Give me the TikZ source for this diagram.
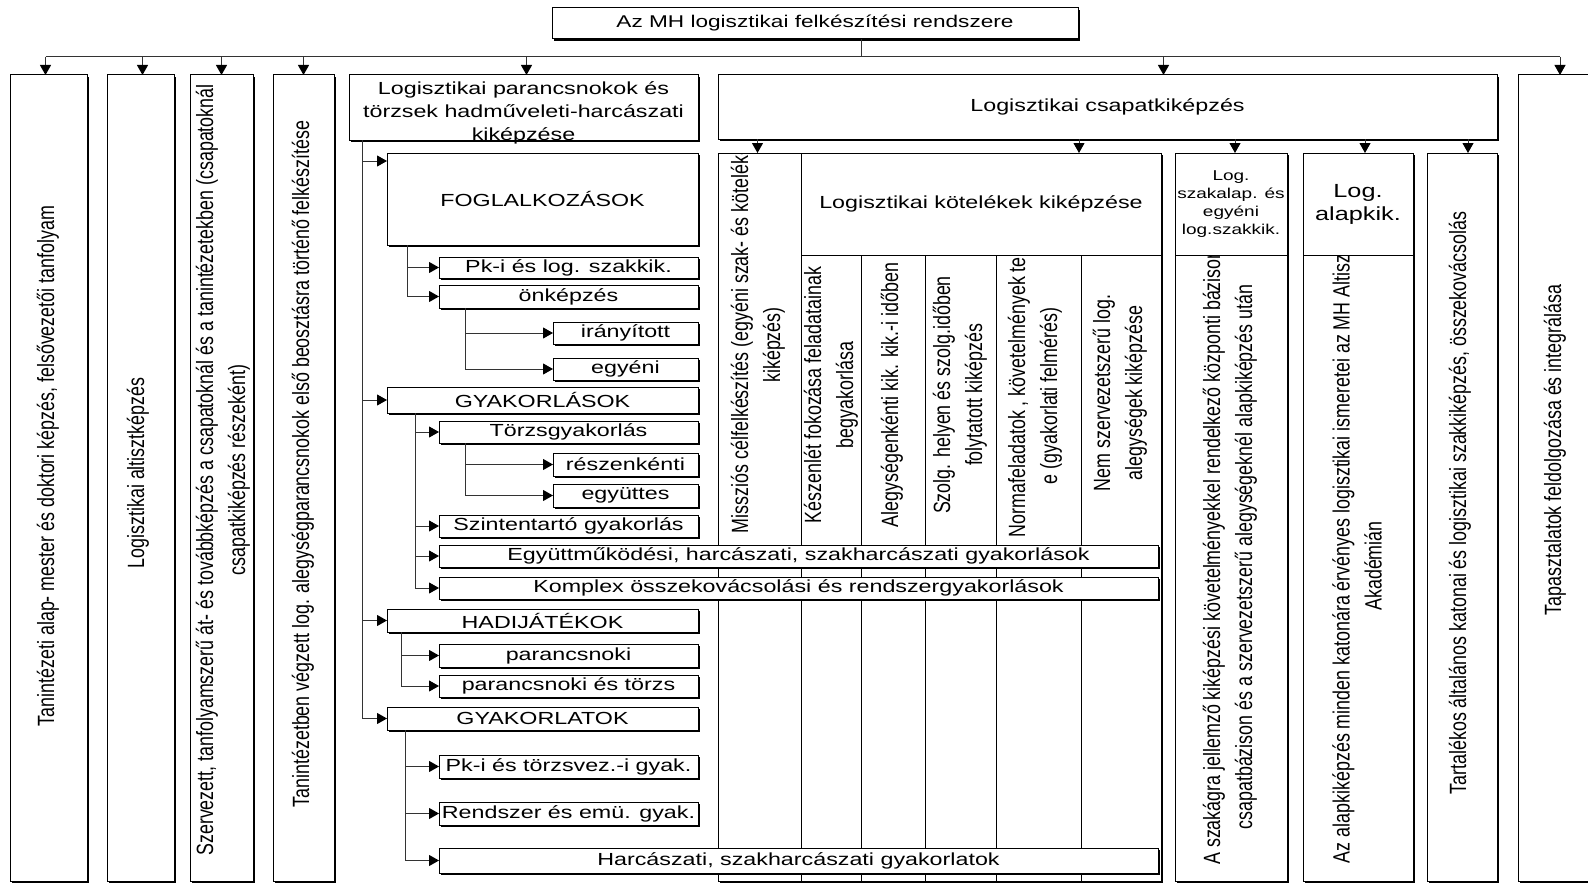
\documentclass[tikz,border=0pt]{standalone}
\usepackage{fontspec}
\setmainfont{Liberation Sans}
\newfontfamily\hfont[FakeStretch=1.33]{Liberation Sans}
\newfontfamily\vfont[FakeStretch=0.76]{Liberation Sans}
\newcommand\htextfont{\hfont\fontsize{17.5}{23}\selectfont}
\newcommand\vtextfont{\vfont\fontsize{23.5}{32}\selectfont}
\usetikzlibrary{arrows.meta, shadows}

\begin{document}
\begin{tikzpicture}[
    x=1pt, y=-1pt,
    % Styles for the boxes
    frame/.style={
        draw=black,
        line width=1pt,
        fill=white,
        inner sep=0pt,
        outer sep=0pt,
        anchor=north west,
        align=center,
        font=\htextfont,
        drop shadow={shadow xshift=2pt, shadow yshift=-2pt, fill=black, opacity=1}
    },
    cell/.style={
        draw=black,
        line width=1pt,
        fill=white,
        inner sep=0pt,
        outer sep=0pt,
        anchor=north west,
        align=center,
        font=\htextfont
    },
    vtext/.style={
        rotate=90,
        font=\vtextfont,
        align=flush center,
        inner sep=0pt
    },
    % Connector styles
    wire/.style={
        draw=black!80,
        line width=1pt
    },
    conn/.style={
        wire,
        -{Triangle[length=10pt,width=11pt,color=black]}
    }
]
    \useasboundingbox[fill=white] (0,0) rectangle (1588,883);

    % --- Top ---
    \node[frame, minimum width=526pt, minimum height=31pt, font=\hfont\fontsize{17}{21}\selectfont] (top) at (552,8) {Az MH logisztikai felkészítési rendszere};

    % --- First row ---
    \node[frame, minimum width=77pt, minimum height=806pt] (tani) at (10,75) {};
    \node[frame, minimum width=67pt, minimum height=806pt] (altiszt) at (107,75) {};
    \node[frame, minimum width=63pt, minimum height=806pt] (szerv) at (190,75) {};
    \node[frame, minimum width=61pt, minimum height=806pt] (elsobeo) at (273,75) {};
    \node[frame, minimum width=349pt, minimum height=65pt] (pk) at (349,75) {};
    \node[font=\htextfont, align=center, inner sep=0pt] (pkT) at ([yshift=-5pt]pk.center) {Logisztikai parancsnokok és\\törzsek hadműveleti-harcászati\\kiképzése};
    \node[frame, minimum width=779pt, minimum height=64pt] (csapat) at (718,75) {Logisztikai csapatkiképzés};
    \node[frame, minimum width=100pt, minimum height=806pt] (tapaszt) at (1518,75) {};

    \node[vtext] (taniT) at (48,466) {Tanintézeti alap- mester és doktori képzés,  felsővezetői tanfolyam};
    \node[vtext] (altisztT) at (138,473) {Logisztikai altisztképzés};
    \begin{scope}
        \clip (szerv.north west) rectangle (szerv.south east);
        \node[vtext, text width=780pt] (szervT) at (223,470) {\mbox{Szervezett,  tanfolyamszerű át- és továbbképzés  a csapatoknál és a tanintézetekben (csapatoknál}\\csapatkiképzés részeként)};
    \end{scope}
    \node[vtext] (elsobeoT) at (303,464) {Tanintézetben végzett log. alegységparancsnokok első beosztásra történő felkészítése};
    \node[vtext] (tapasztT) at (1555,450) {Tapasztalatok feldolgozása és integrálása};

    % --- Csapatkiképzés ---
    \node[frame, minimum width=443pt, minimum height=728pt] (kotelkeret) at (718,153) {};
    \node[cell, minimum width=83pt, minimum height=728pt] (missz) at (718,153) {};
    \node[cell, minimum width=360pt, minimum height=102pt] (kotel) at (801,153) {Logisztikai kötelékek kiképzése};
    \node[cell, minimum width=60pt, minimum height=626pt] (keszen) at (801,255) {};
    \node[cell, minimum width=64pt, minimum height=626pt] (alegys) at (861,255) {};
    \node[cell, minimum width=71pt, minimum height=626pt] (szolg) at (925,255) {};
    \node[cell, minimum width=85pt, minimum height=626pt] (norma) at (996,255) {};
    \node[cell, minimum width=80pt, minimum height=626pt] (nemszerv) at (1081,255) {};

    \begin{scope}
        \clip (missz.north west) rectangle (missz.south east);
        \node[vtext, text width=376pt] (misszT) at (758,345) {\mbox{Missziós célfelkészítés (egyéni szak- és kötelék-}\\kiképzés)};
    \end{scope}
    \node[vtext] (keszenT) at (831,395) {Készenlét fokozása feladatainak\\begyakorlása};
    \node[vtext] (alegysT) at (892,395) {Alegységenkénti kik. kik.-i időben};
    \node[vtext] (szolgT) at (960,395) {Szolg. helyen és szolg.időben\\folytatott kiképzés};
    \begin{scope}
        \clip (norma.north west) rectangle (norma.south east);
        \node[vtext, text width=282pt] (normaT) at (1035,396) {\mbox{Normafeladatok , követelmények teljesítés}\\e (gyakorlati felmérés)};
    \end{scope}
    \node[vtext] (nemszervT) at (1120,393) {Nem szervezetszerű log.\\alegységek kiképzése};

    \node[frame, minimum width=112pt, minimum height=728pt] (szakalap) at (1175,153) {};
    \node[cell, minimum width=112pt, minimum height=102pt, font=\hfont\fontsize{14.3}{18}\selectfont] (szakfej) at (1175,153) {Log.\\szakalap. és\\egyéni\\log.szakkik.};
    \begin{scope}
        \clip (szakfej.south west) rectangle (szakalap.south east);
        \node[vtext, text width=620pt] (szakalapT) at (1230,557) {\mbox{A szakágra jellemző kiképzési követelményekkel rendelkező központi bázison}\\csapatbázison és a szervezetszerű alegységeknél alapkiképzés után};
    \end{scope}

    \node[frame, minimum width=110pt, minimum height=728pt] (alapkik) at (1303,153) {};
    \node[cell, minimum width=110pt, minimum height=102pt, font=\hfont\fontsize{19}{23}\selectfont] (alapfej) at (1303,153) {Log.\\alapkik.};
    \begin{scope}
        \clip (alapfej.south west) rectangle (alapkik.south east);
        \node[vtext, text width=594pt] (alapkikT) at (1357,566) {\mbox{Az alapkiképzés minden katonára érvényes logisztikai ismeretei az MH Altiszti}\\Akadémián};
    \end{scope}

    \node[frame, minimum width=70pt, minimum height=728pt] (tartalek) at (1427,153) {};
    \node[vtext] (tartalekT) at (1460,503) {Tartalékos általános katonai és logisztikai szakkiképzés,  összekovácsolás};

    % --- Parancsnokok es torzsek ---
    \node[frame, minimum width=311pt, minimum height=92pt] (fog) at (387,153) {FOGLALKOZÁSOK};
    \node[frame, minimum width=259pt, minimum height=21pt] (pkszak) at (439,257) {Pk-i és log. szakkik.};
    \node[frame, minimum width=259pt, minimum height=23pt] (onkep) at (439,285) {önképzés};
    \node[frame, minimum width=145pt, minimum height=22pt] (iranyitott) at (553,322) {irányított};
    \node[frame, minimum width=145pt, minimum height=22pt] (egyeni) at (553,358) {egyéni};
    \node[frame, minimum width=311pt, minimum height=26pt] (gyakorlasok) at (387,387) {GYAKORLÁSOK};
    \node[frame, minimum width=259pt, minimum height=22pt] (torzs) at (439,421) {Törzsgyakorlás};
    \node[frame, minimum width=145pt, minimum height=23pt] (reszen) at (553,453) {részenkénti};
    \node[frame, minimum width=145pt, minimum height=23pt] (egyutt) at (553,484) {együttes};
    \node[frame, minimum width=259pt, minimum height=22pt] (szintent) at (439,515) {Szintentartó gyakorlás};
    \node[frame, minimum width=719pt, minimum height=22pt] (egyuttm) at (439,545) {Együttműködési, harcászati, szakharcászati gyakorlások};
    \node[frame, minimum width=719pt, minimum height=22pt] (komplex) at (439,577) {Komplex összekovácsolási és rendszergyakorlások};
    \node[frame, minimum width=311pt, minimum height=23pt] (hadi) at (387,609) {HADIJÁTÉKOK};
    \node[frame, minimum width=259pt, minimum height=23pt] (parancsnoki) at (439,644) {parancsnoki};
    \node[frame, minimum width=259pt, minimum height=22pt] (pkestorzs) at (439,675) {parancsnoki és törzs};
    \node[frame, minimum width=311pt, minimum height=23pt] (gyakorlatok) at (387,707) {GYAKORLATOK};
    \node[frame, minimum width=259pt, minimum height=23pt] (pktorzsvez) at (439,755) {Pk-i és törzsvez.-i gyak.};
    \node[frame, minimum width=259pt, minimum height=23pt] (rendszer) at (439,802) {Rendszer és emü. gyak.};
    \node[frame, minimum width=719pt, minimum height=25pt] (harcaszati) at (439,848) {Harcászati,  szakharcászati gyakorlatok};

    % --- Edges ---

    % Bus under the top box
    \coordinate (bus) at (0,57);
    \coordinate (busW) at ([xshift=-3pt]tani.north |- bus);
    \coordinate (busE) at ([xshift=-8pt]tapaszt.north |- bus);
    \draw[wire] ([xshift=46pt]top.south) -- ([xshift=46pt]top.south |- bus);
    \draw[wire] (busW) -- (busE);
    \draw[conn] (busW) -- (busW |- tani.north);
    \draw[conn] ([xshift=2pt]altiszt.north |- bus) -- ([xshift=2pt]altiszt.north);
    \draw[conn] (szerv.north |- bus) -- (szerv.north);
    \draw[conn] (elsobeo.north |- bus) -- (elsobeo.north);
    \draw[conn] ([xshift=3pt]pk.north |- bus) -- ([xshift=3pt]pk.north);
    \draw[conn] ([xshift=56pt]csapat.north |- bus) -- ([xshift=56pt]csapat.north);
    \draw[conn] (busE) -- (busE |- tapaszt.north);

    % Csapatkiképzés -> columns
    \draw[conn] ([xshift=-2pt]missz.north |- csapat.south) -- ([xshift=-2pt]missz.north);
    \draw[conn] ([xshift=98pt]kotel.north |- csapat.south) -- ([xshift=98pt]kotel.north);
    \draw[conn] ([xshift=4pt]szakalap.north |- csapat.south) -- ([xshift=4pt]szakalap.north);
    \draw[conn] ([xshift=7pt]alapkik.north |- csapat.south) -- ([xshift=7pt]alapkik.north);
    \draw[conn] ([xshift=6pt]tartalek.north |- csapat.south) -- ([xshift=6pt]tartalek.north);

    % Trunk of the left branch
    \coordinate (trunk) at ([xshift=13pt]pk.south west);
    \coordinate (fogin) at ([yshift=-8pt]fog.north west);
    \draw[wire] (trunk) -- (trunk |- gyakorlatok.west);
    \draw[conn] (fogin -| trunk) -- (fogin);
    \draw[conn] (trunk |- gyakorlasok.west) -- (gyakorlasok.west);
    \draw[conn] (trunk |- hadi.west) -- (hadi.west);
    \draw[conn] (trunk |- gyakorlatok.west) -- (gyakorlatok.west);

    % Foglalkozások
    \coordinate (fogag) at ([xshift=20pt]fog.south west);
    \draw[wire] (fogag) -- (fogag |- onkep.west);
    \draw[conn] (fogag |- pkszak.west) -- (pkszak.west);
    \draw[conn] (fogag |- onkep.west) -- (onkep.west);
    \coordinate (onkag) at ([xshift=26pt]onkep.south west);
    \draw[wire] (onkag) -- (onkag |- egyeni.west);
    \draw[conn] (onkag |- iranyitott.west) -- (iranyitott.west);
    \draw[conn] (onkag |- egyeni.west) -- (egyeni.west);

    % Gyakorlások
    \coordinate (gyag) at ([xshift=28pt]gyakorlasok.south west);
    \draw[wire] (gyag) -- (gyag |- komplex.west);
    \draw[conn] (gyag |- torzs.west) -- (torzs.west);
    \draw[conn] (gyag |- szintent.west) -- (szintent.west);
    \draw[conn] (gyag |- egyuttm.west) -- (egyuttm.west);
    \draw[conn] (gyag |- komplex.west) -- (komplex.west);
    \coordinate (tzag) at ([xshift=26pt]torzs.south west);
    \draw[wire] (tzag) -- (tzag |- egyutt.west);
    \draw[conn] (tzag |- reszen.west) -- (reszen.west);
    \draw[conn] (tzag |- egyutt.west) -- (egyutt.west);

    % Hadijátékok
    \coordinate (hadag) at ([xshift=14pt]hadi.south west);
    \draw[wire] (hadag) -- (hadag |- pkestorzs.west);
    \draw[conn] (hadag |- parancsnoki.west) -- (parancsnoki.west);
    \draw[conn] (hadag |- pkestorzs.west) -- (pkestorzs.west);

    % Gyakorlatok
    \coordinate (gyltag) at ([xshift=18pt]gyakorlatok.south west);
    \draw[wire] (gyltag) -- (gyltag |- harcaszati.west);
    \draw[conn] (gyltag |- pktorzsvez.west) -- (pktorzsvez.west);
    \draw[conn] (gyltag |- rendszer.west) -- (rendszer.west);
    \draw[conn] (gyltag |- harcaszati.west) -- (harcaszati.west);

\end{tikzpicture}
\end{document}
